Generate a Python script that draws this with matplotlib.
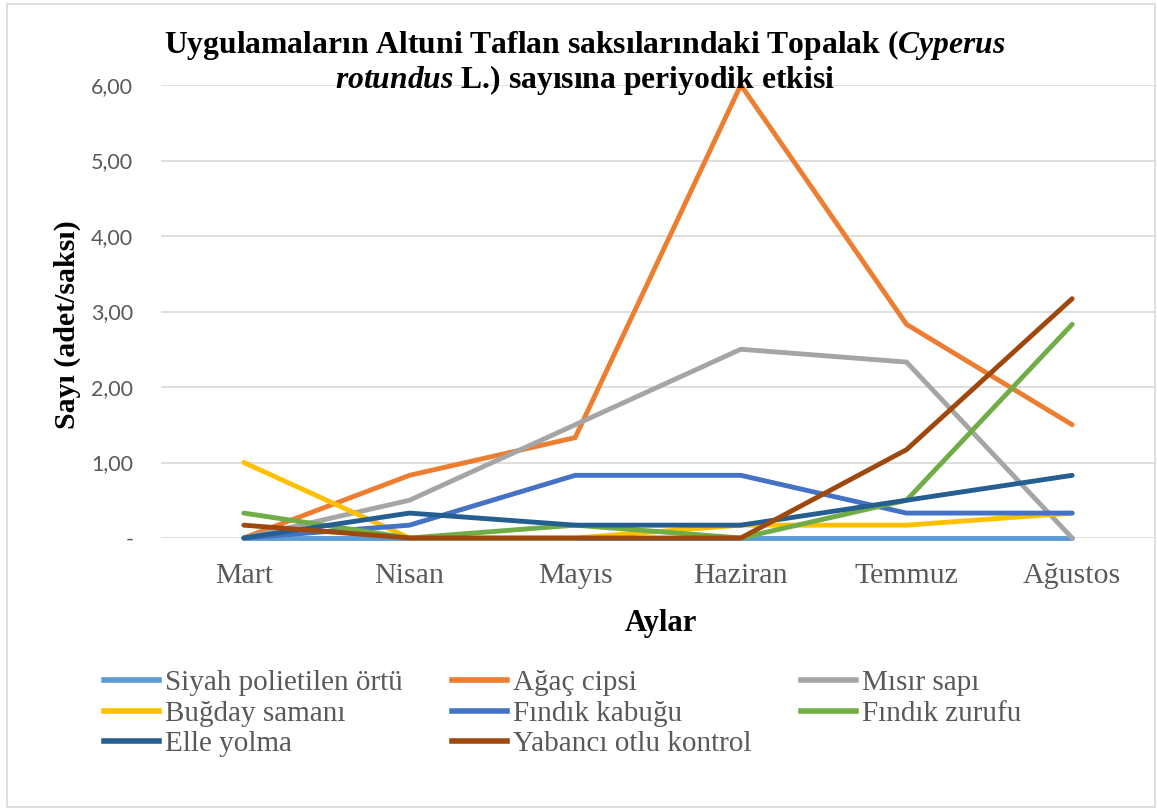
import matplotlib
matplotlib.use("Agg")
import matplotlib.pyplot as plt
from matplotlib.lines import Line2D
from matplotlib.patches import Rectangle
from matplotlib.font_manager import FontProperties

plt.rcParams["mathtext.fontset"] = "custom"
plt.rcParams["mathtext.it"] = "Liberation Serif:italic:bold"
plt.rcParams["mathtext.rm"] = "Liberation Serif:bold"
plt.rcParams["mathtext.bf"] = "Liberation Serif:bold"

months = ["Mart", "Nisan", "Mayıs", "Haziran", "Temmuz", "Ağustos"]
series_names = ["Siyah polietilen örtü", "Ağaç cipsi", "Mısır sapı",
                "Buğday samanı", "Fındık kabuğu", "Fındık zurufu",
                "Elle yolma", "Yabancı otlu kontrol"]
siyah = [0, 0, 0, 0, 0, 0]
agac = [0, 0.83, 1.33, 6.00, 2.83, 1.50]
misir = [0, 0.50, 1.50, 2.50, 2.33, 0]
bugday = [1.00, 0, 0, 0.17, 0.17, 0.33]
findik_kabugu = [0, 0.17, 0.83, 0.83, 0.33, 0.33]
findik_zurufu = [0.33, 0, 0.17, 0, 0.50, 2.83]
elle = [0, 0.33, 0.17, 0.17, 0.50, 0.83]
yabanci = [0.17, 0, 0, 0, 1.17, 3.17]
yticks = [0, 1, 2, 3, 4, 5, 6]
ytick_labels = ["-", "1,00", "2,00", "3,00", "4,00", "5,00", "6,00"]

values = [siyah, agac, misir, bugday, findik_kabugu, findik_zurufu, elle, yabanci]
colors = ["#5B9BD5", "#ED7D31", "#A5A5A5", "#FFC000", "#4472C4",
          "#70AD47", "#255E91", "#9E480E"]

W, H = 1157, 809
fig = plt.figure(figsize=(W / 100, H / 100), dpi=100)
fig.patch.set_facecolor("white")

# outer border
fig.add_artist(Rectangle((7 / W, 1 - 807 / H), (1155 - 7) / W, (807 - 4) / H,
                         transform=fig.transFigure, fill=False,
                         edgecolor="#D9D9D9", linewidth=1.2))

ax = fig.add_axes([161 / W, 1 - 538 / H, (1155 - 161) / W, (538 - 85) / H])
x = list(range(len(months)))
for name, vals, c in zip(series_names, values, colors):
    ax.plot(x, vals, color=c, linewidth=3.5, label=name, clip_on=False,
            solid_capstyle="round", solid_joinstyle="miter")

ax.set_xlim(-0.5, len(months) - 0.5)
ax.set_ylim(0, 6)
ax.set_yticks(yticks)
ax.set_yticklabels(ytick_labels)
ax.set_xticks(x)
ax.set_xticklabels(months)
ax.grid(axis="y", color="#D9D9D9", linewidth=1.2)
ax.set_axisbelow(True)
for s in ax.spines.values():
    s.set_visible(False)
ax.tick_params(axis="both", length=0)
ax.tick_params(axis="y", pad=20, labelsize=15.5, labelcolor="#595959")
for lbl in ax.get_yticklabels():
    lbl.set_fontfamily("Lato")
ax.tick_params(axis="x", pad=18, labelsize=21.5, labelcolor="#595959")
for lbl in ax.get_xticklabels():
    lbl.set_fontfamily("Liberation Serif")

fig.text(67 / W, 1 - 325 / H, "Sayı (adet/saksı)", rotation=90, ha="center",
         va="center", fontsize=21.5, fontweight="bold", family="Liberation Serif")
fig.text(661 / W, 1 - 624 / H, "Aylar", ha="center", va="center",
         fontsize=22, fontweight="bold", family="Liberation Serif")

# title
fig.text(585 / W, 1 - 45 / H,
         r"Uygulamaların Altuni Taflan saksılarındaki Topalak ($\mathit{Cyperus}$",
         ha="center", va="center", fontsize=22.8, fontweight="bold",
         family="Liberation Serif")
fig.text(585 / W, 1 - 80 / H,
         r"$\mathit{rotundus}$ L.) sayısına periyodik etkisi",
         ha="center", va="center", fontsize=22.8, fontweight="bold",
         family="Liberation Serif")

order = [0, 3, 6, 1, 4, 7, 2, 5]
handles = [Line2D([0], [0], color=colors[i], linewidth=4) for i in order]
labels = [series_names[i] for i in order]
legfont = FontProperties(family="Liberation Serif", size=21)
leg = fig.legend(handles, labels, loc="upper left",
                 bbox_to_anchor=(104 / W, 1 - 670 / H), ncol=3, frameon=False,
                 prop=legfont,
                 handlelength=1.9, handletextpad=0.2, columnspacing=1.68,
                 labelspacing=0.14, borderaxespad=0, borderpad=0)
for t in leg.get_texts():
    t.set_color("#595959")
    t.set_fontproperties(legfont)

fig.savefig("out.png", dpi=100)
